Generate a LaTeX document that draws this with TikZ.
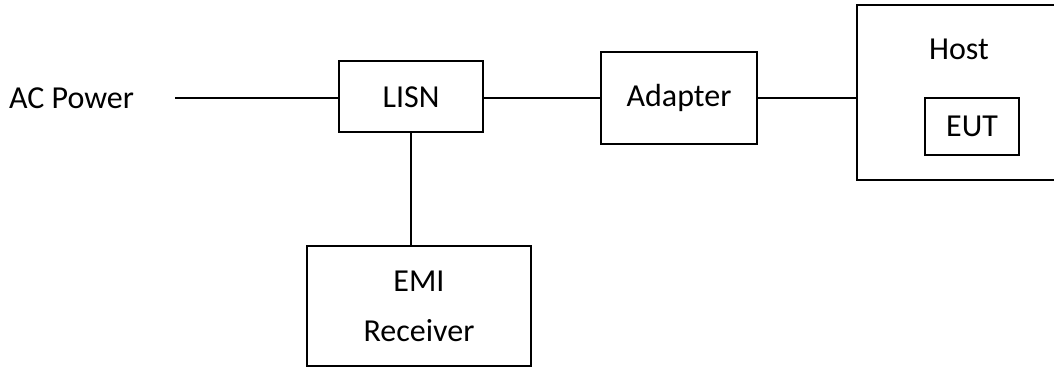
\documentclass[tikz,border=0pt]{standalone}
\usepackage{fontspec}
\setmainfont{Carlito}
\usepackage{tikz}
\usetikzlibrary{positioning, calc}

\tikzset{
	blockbox/.style={rectangle, draw, line width=1pt, align=center, inner sep=0pt},
	link/.style={line width=1pt}
}

\begin{document}
\begin{tikzpicture}[x=0.5pt, y=-0.5pt, font=\fontsize{16}{19}\selectfont]
		
		\useasboundingbox (0,0) rectangle (1054,367);
		
		%Nodes
		\node (ACPower) at (71.5,98) [align=center]{AC Power};
		\coordinate (ACend) at (175,98);
		
		\node (LISN) at (411,97) [blockbox, minimum width=72pt, minimum height=35.5pt]{LISN};
		
		\node (Adapter) at (679,98) [blockbox, minimum width=78pt, minimum height=46pt]{Adapter};
		
		\node (Host) at (978.5,92.5) [blockbox, minimum width=121.5pt, minimum height=87.5pt]{};
		\node (HostLabel) at (959,49) {Host};
		
		\node (EUT) at (972,126.5) [blockbox, minimum width=47pt, minimum height=28.5pt]{EUT};
		
		\node (EMI) at (419,306) [blockbox, minimum width=112pt, minimum height=60pt]{EMI \\[6pt] Receiver};
		
		%Links
		\draw[link] (ACend) -- (ACend -| LISN.west);
		\draw[link] (ACend -| LISN.east) -- (Adapter.west);
		\draw[link] (Adapter.east) -- (Adapter.east -| Host.west);
		\draw[link] (LISN.south) -- (LISN.south |- EMI.north);
		
		\end{tikzpicture}
\end{document}
